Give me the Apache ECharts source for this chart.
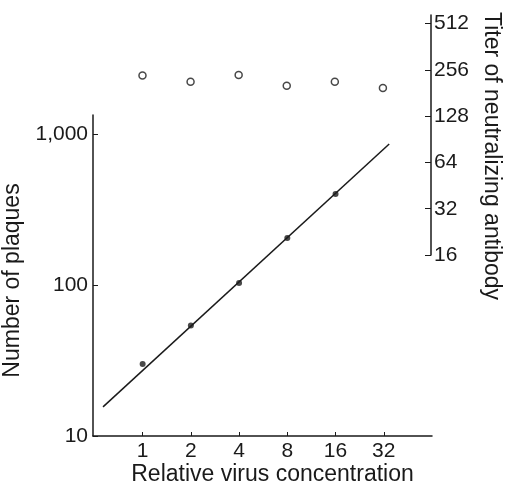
<!DOCTYPE html>
<html>
<head>
<meta charset="utf-8">
<script src="https://cdn.jsdelivr.net/npm/echarts@6/dist/echarts.min.js"></script>
<style>
  html, body { margin: 0; padding: 0; background: #fff; }
  #chart { width: 506px; height: 486px; }
</style>
</head>
<body>
<div id="chart"></div>
<script>
// relative virus concentration (x) and measurements
var concentrations = [1, 2, 4, 8, 16, 32];
var plaques = [30, 54, 103, 205, 401];          // filled dots
var titers = [235, 214, 237, 202, 214, 195];    // open circles (right axis)
// fitted line end points
var fitX = [0.566, 34.6];
var fitY = [15.6, 859];
// tick values
var plaqueTicks = [10, 100, 1000];
var titerTicks = [16, 32, 64, 128, 256, 512];

var font = 'Liberation Sans';
var black = '#1a1a1a';

var plaqueData = plaques.map(function (v, i) { return [concentrations[i], v]; });
var titerData = titers.map(function (v, i) { return [concentrations[i], v]; });
var fitData = fitX.map(function (v, i) { return [v, fitY[i]]; });

var chart = echarts.init(document.getElementById('chart'));
var option = {
    backgroundColor: '#fff',
    animation: false,
    grid: [
        { left: 93, right: 74, top: 115, bottom: 50, outerBoundsMode: 'none' },
        { left: 93, right: 75, top: 15, bottom: 231, outerBoundsMode: 'none' }
    ],
    xAxis: [{
        gridIndex: 0,
        type: 'log',
        logBase: 2,
        min: 0.49,
        max: 64,
        name: 'Relative virus concentration',
        nameLocation: 'middle',
        nameGap: 27,
        nameMoveOverlap: false,
        nameTextStyle: { fontFamily: font, fontSize: 23, color: black, padding: [0, 0, 0, 20] },
        axisLine: { lineStyle: { color: black, width: 1.5 } },
        axisTick: { inside: true, length: 4, customValues: concentrations, lineStyle: { color: black } },
        axisLabel: { customValues: concentrations, fontFamily: font, fontSize: 21, color: black, margin: 5 },
        splitLine: { show: false }
    }, {
        gridIndex: 1,
        type: 'log',
        logBase: 2,
        min: 0.49,
        max: 64,
        show: false
    }],
    yAxis: [{
        gridIndex: 0,
        type: 'log',
        min: 10,
        max: 1336,
        name: 'Number of plaques',
        nameLocation: 'middle',
        nameRotate: 90,
        nameGap: 68,
        nameTextStyle: { fontFamily: font, fontSize: 23, color: black, padding: [0, 10, 0, 0] },
        axisLine: { show: true, lineStyle: { color: black, width: 1.5 } },
        axisTick: { show: true, inside: true, length: 5, customValues: plaqueTicks, lineStyle: { color: black } },
        axisLabel: {
            customValues: plaqueTicks, fontFamily: font, fontSize: 21, color: black, margin: 5,
            formatter: function (v) { return v >= 1000 ? '1,000' : String(v); }
        },
        splitLine: { show: false },
        minorTick: { show: false }
    }, {
        gridIndex: 1,
        type: 'log',
        logBase: 2,
        min: 16,
        max: 582,
        position: 'right',
        name: 'Titer of neutralizing antibody',
        nameLocation: 'middle',
        nameRotate: -90,
        nameGap: 42,
        nameTextStyle: { fontFamily: font, fontSize: 23, color: black, padding: [0, 0, 0, 42] },
        axisLine: { show: true, lineStyle: { color: black, width: 1.5 } },
        axisTick: { show: true, inside: true, length: 6, customValues: titerTicks, lineStyle: { color: black } },
        axisLabel: { customValues: titerTicks, fontFamily: font, fontSize: 21, color: black, margin: 3 },
        splitLine: { show: false }
    }],
    series: [{
        type: 'line',
        xAxisIndex: 0,
        yAxisIndex: 0,
        data: fitData,
        showSymbol: false,
        lineStyle: { color: black, width: 1.5 }
    }, {
        type: 'scatter',
        xAxisIndex: 0,
        yAxisIndex: 0,
        data: plaqueData,
        symbol: 'circle',
        symbolSize: 6,
        itemStyle: { color: black }
    }, {
        type: 'scatter',
        xAxisIndex: 1,
        yAxisIndex: 1,
        data: titerData,
        symbol: 'circle',
        symbolSize: 7,
        itemStyle: { color: '#fff', borderColor: black, borderWidth: 1.5 }
    }]
};
chart.setOption(option);
</script>
</body>
</html>
